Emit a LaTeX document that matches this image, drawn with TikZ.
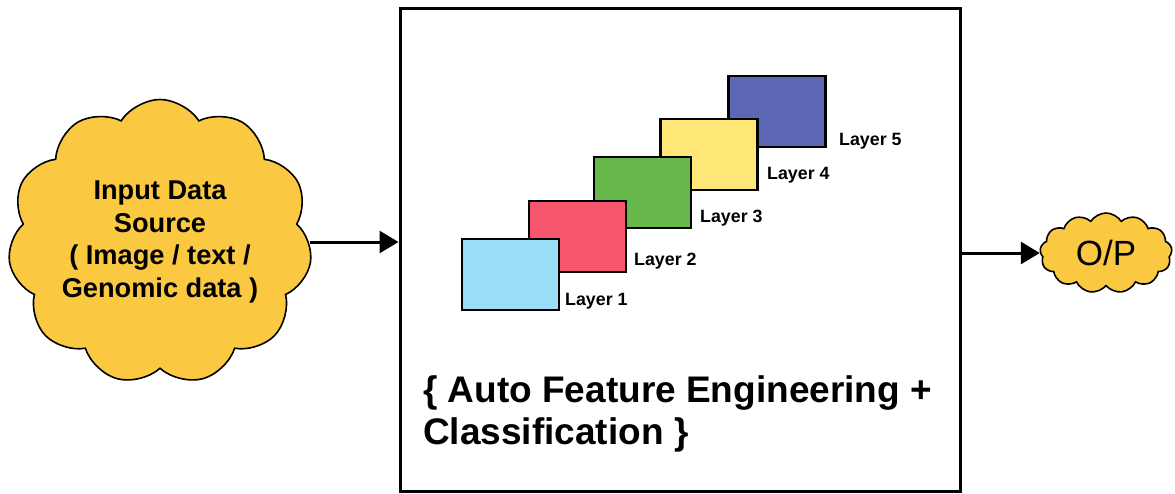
\documentclass[tikz,border=0pt]{standalone}
\usepackage{fontspec}
\setmainfont{Liberation Sans}
\usetikzlibrary{shapes.symbols,arrows.meta}

\definecolor{cloudfill}{HTML}{FBC841}
\definecolor{layerA}{HTML}{9BDDF7}
\definecolor{layerB}{HTML}{F5556D}
\definecolor{layerC}{HTML}{67B84A}
\definecolor{layerD}{HTML}{FEE677}
\definecolor{layerE}{HTML}{5C68B6}

\tikzset{
  puffy/.style={shape=cloud, cloud ignores aspect, draw=black, line width=1.6pt,
    fill=cloudfill, cloud puff arc=115, inner sep=0pt, align=center},
  layerbox/.style={draw=black, line width=2.6pt, minimum width=97pt,
    minimum height=71pt, inner sep=0pt},
  layertext/.style={anchor=west, inner sep=0pt,
    font=\bfseries\fontsize{17.8}{20}\selectfont},
  flow/.style={line width=3pt, -{Triangle[length=19pt,width=22pt]}},
}

\begin{document}
\begin{tikzpicture}[x=1pt, y=-1pt]
  \useasboundingbox (0,0) rectangle (1175,493);

  % input source
  \node[puffy, cloud puffs=11, minimum width=304pt, minimum height=285pt,
        font=\bfseries\fontsize{27.2}{32.5}\selectfont]
    (src) at (160,242) {Input Data\\Source\\( Image / text /\\Genomic data )};

  % model block
  \node[draw=black, line width=3pt, minimum width=560pt, minimum height=483pt,
        inner sep=0pt] (box) at (680,249.5) {};

  % stacked layers, back to front
  \node[layerbox, fill=layerE] (l5) at (777,111.5) {};
  \node[layerbox, fill=layerD] (l4) at (709,154.5) {};
  \node[layerbox, fill=layerC] (l3) at (642.5,192.5) {};
  \node[layerbox, fill=layerB] (l2) at (577.5,236.5) {};
  \node[layerbox, fill=layerA] (l1) at (510.5,274.5) {};

  \node[layertext] (t1) at (565,301) {Layer 1};
  \node[layertext] (t2) at (634,261) {Layer 2};
  \node[layertext] (t3) at (700,218) {Layer 3};
  \node[layertext] (t4) at (767,175) {Layer 4};
  \node[layertext] (t5) at (839,141) {Layer 5};

  \node[anchor=west, align=left, inner sep=0pt,
        font=\bfseries\fontsize{37}{42}\selectfont]
    (cap) at (423,414) {\{ Auto Feature Engineering +\\Classification \}};

  % output
  \node[puffy, cloud puffs=13, minimum width=132pt, minimum height=80pt,
        font=\fontsize{35}{40}\selectfont]
    (out) at (1106,253) {O/P};

  % connectors
  \draw[flow] (src.east) -- (src.east -| box.west);
  \draw[flow] (out.west -| box.east) -- (out.west);
\end{tikzpicture}
\end{document}
